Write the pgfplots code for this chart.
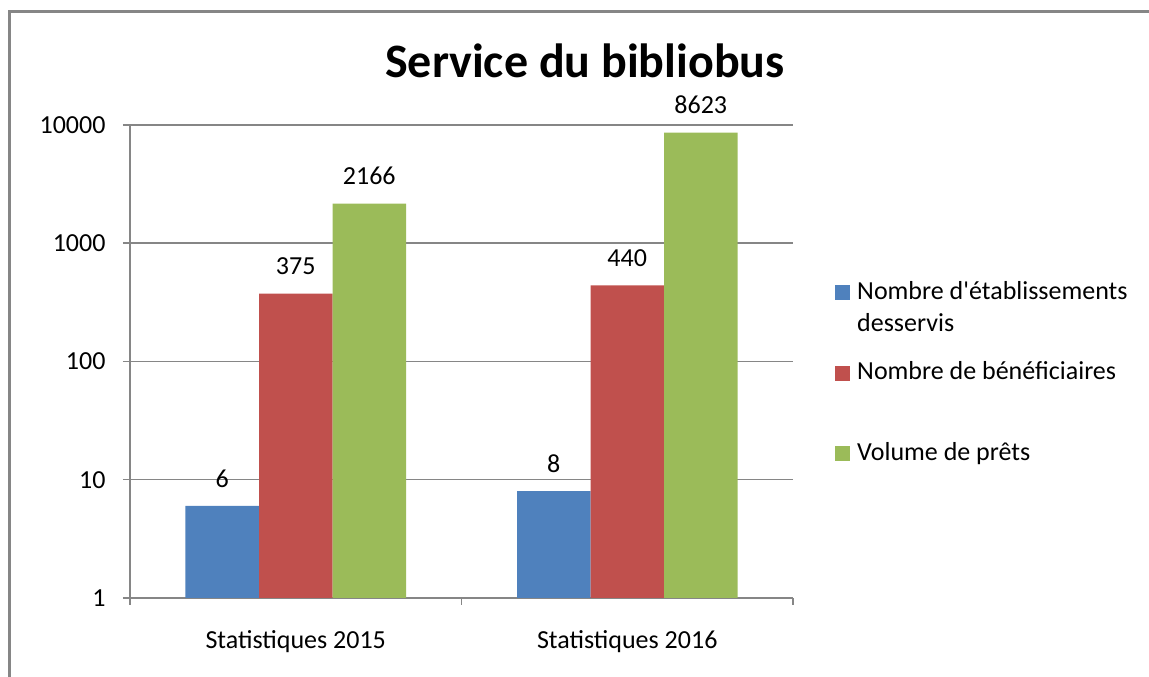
\documentclass[border=0pt]{standalone}
\usepackage{pgfplots}
\pgfplotsset{compat=1.18}
\usepackage{fontspec}
\setmainfont{Carlito}[Ligatures=TeXOff]
\definecolor{xblue}{HTML}{4F81BD}
\definecolor{xred}{HTML}{C0504D}
\definecolor{xgreen}{HTML}{9BBB59}
\definecolor{xgray}{HTML}{868686}
\newcommand{\lf}{\fontsize{26}{31}\selectfont}
\begin{document}
\begin{tikzpicture}[x=1pt,y=1pt]
\path[use as bounding box] (0,0) rectangle (1149,677);
\draw[xgray, line width=3pt] (9,-5) -- (9,665) -- (1155,665);
\begin{axis}[
  at={(130pt,79pt)}, anchor=south west,
  scale only axis, width=663pt, height=473pt,
  ymode=log, ymin=1, ymax=10000, xmin=0, xmax=2,
  ybar=0pt, bar width=73.5pt,
  axis lines*=left,
  axis line style={xgray, line width=1.5pt},
  ytick={1,10,100,1000,10000},
  yticklabels={1,10,100,1000,10000},
  yminorticks=false,
  xtick={0,1,2},
  xticklabels={Statistiques 2015,Statistiques 2016},
  x tick label as interval,
  tick align=outside, major tick length=7pt,
  tick style={xgray, line width=1.5pt},
  ymajorgrids, grid style={xgray, line width=1.5pt},
  ticklabel style={font=\lf, text=black},
  yticklabel style={anchor=east, xshift=-14pt},
  xticklabel style={anchor=base, yshift=-44pt},
  point meta=explicit symbolic,
  nodes near coords,
  every node near coord/.append style={font=\lf, text=black, yshift=15pt},
  clip=false,
]
\addplot[fill=xblue, draw=none] coordinates {(0.5,6)[6] (1.5,8)[8]};
\addplot[fill=xred, draw=none] coordinates {(0.5,375)[375] (1.5,440)[440]};
\addplot[fill=xgreen, draw=none] coordinates {(0.5,2166)[2166] (1.5,8623)[8623]};
\end{axis}
\node[anchor=base, font=\fontsize{48}{56}\selectfont\bfseries] at (585,599) {Service du bibliobus};
% legend
\fill[xblue] (835,377) rectangle (850,392);
\node[anchor=base west, inner sep=0pt, font=\lf] at (857,377) {Nombre d'établissements};
\node[anchor=base west, inner sep=0pt, font=\lf] at (857,345) {desservis};
\fill[xred] (835,296) rectangle (850,311);
\node[anchor=base west, inner sep=0pt, font=\lf] at (857,297) {Nombre de bénéficiaires};
\fill[xgreen] (835,216) rectangle (850,231);
\node[anchor=base west, inner sep=0pt, font=\lf] at (857,216) {Volume de prêts};
\end{tikzpicture}
\end{document}
